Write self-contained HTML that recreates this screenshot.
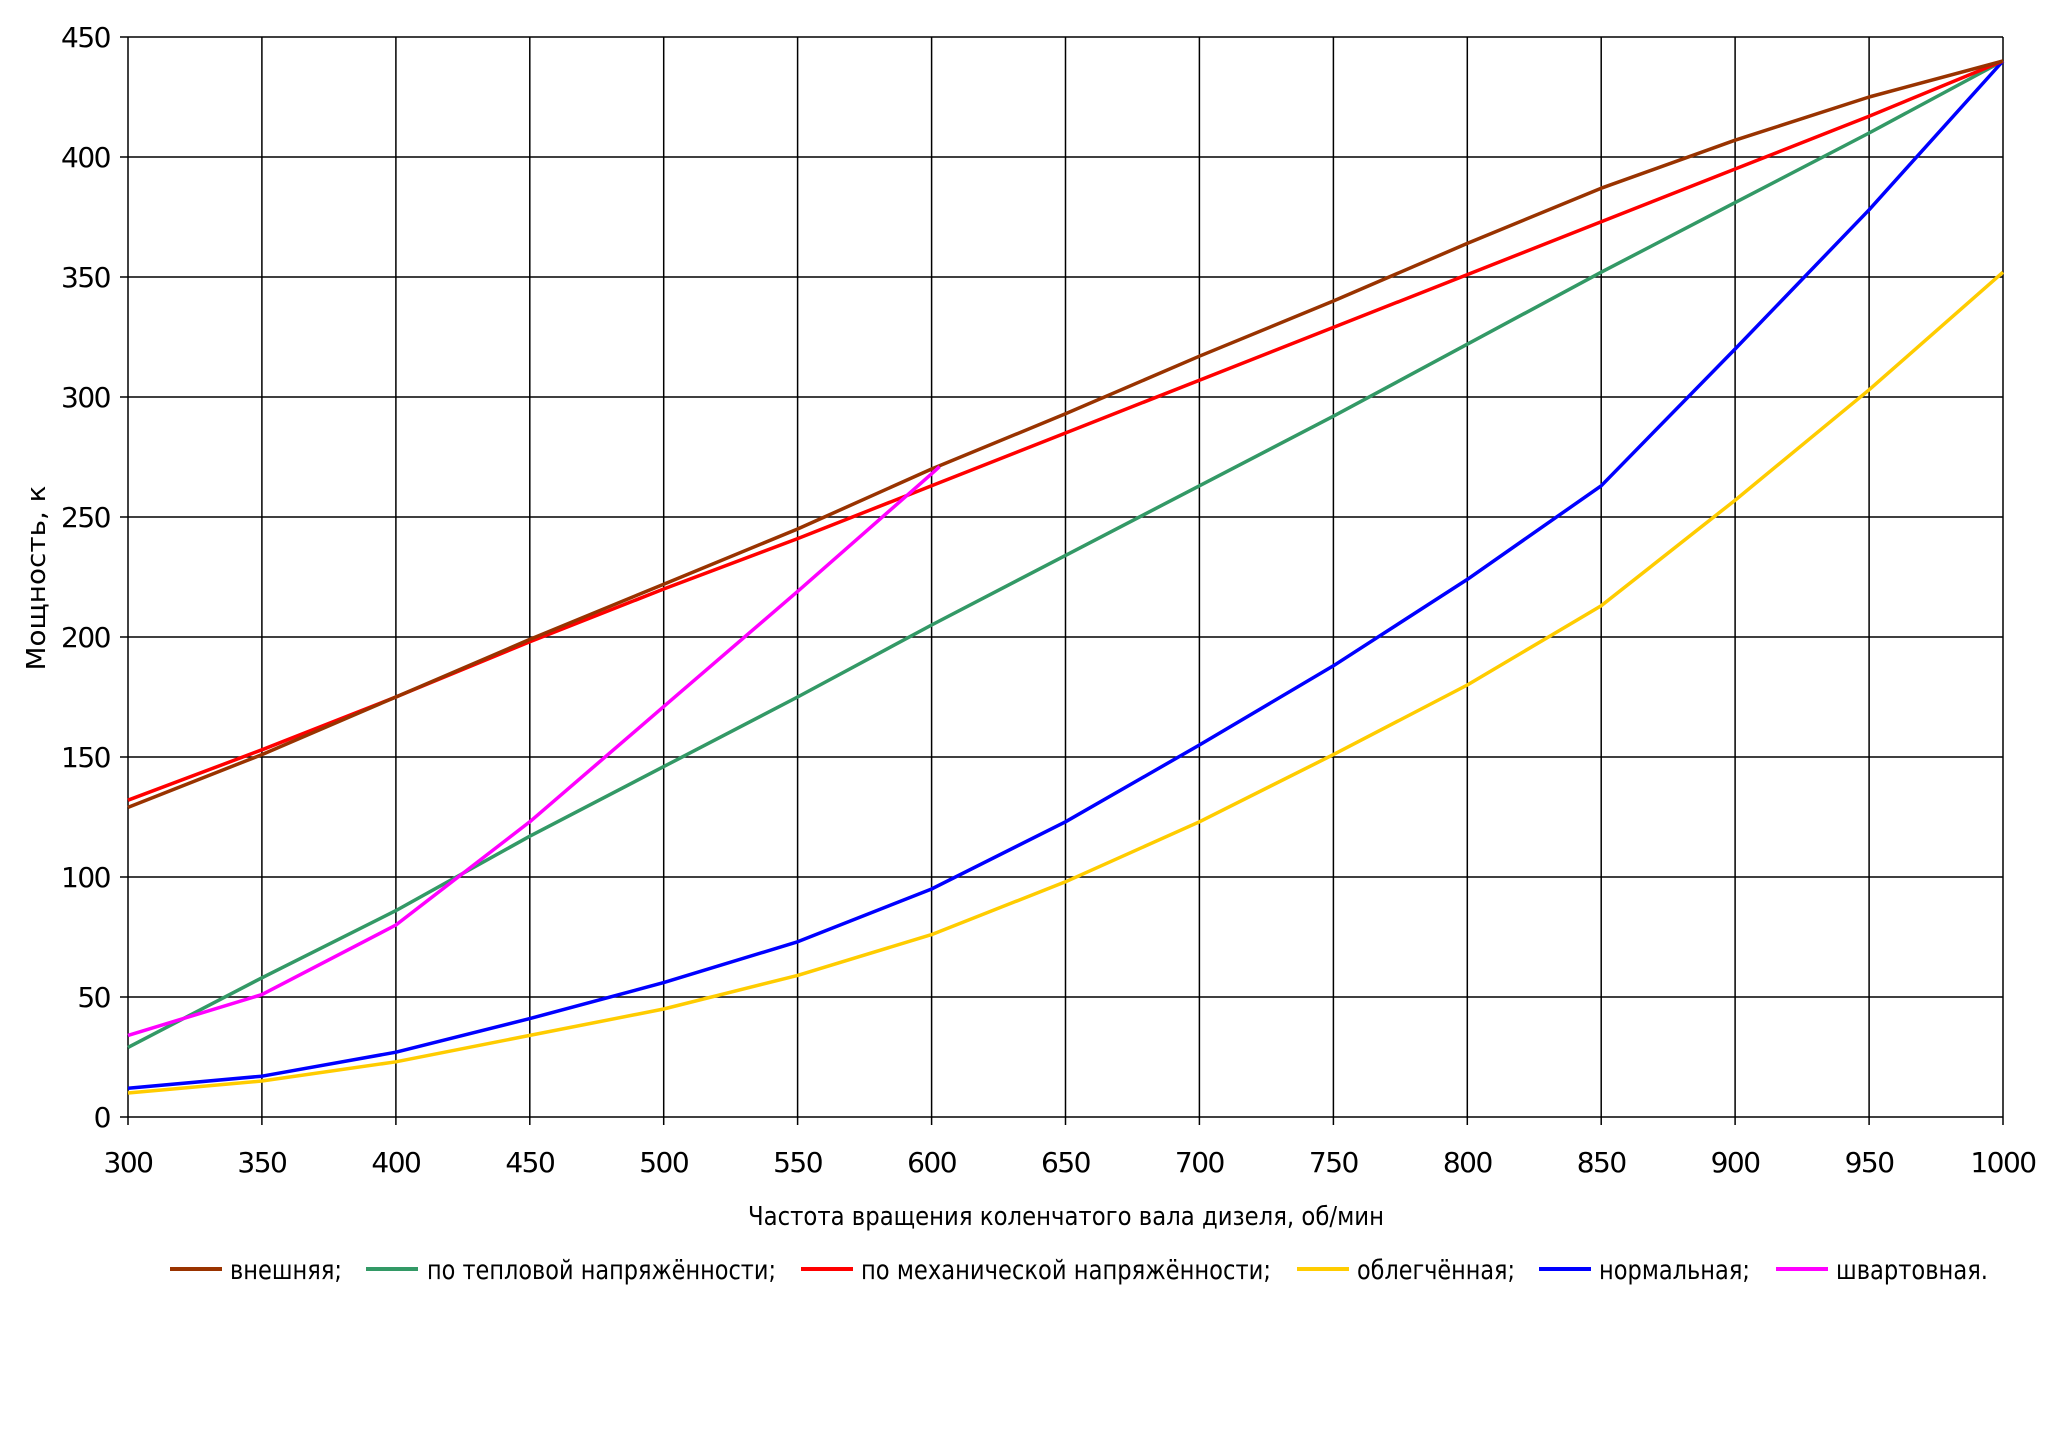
<!DOCTYPE html><html><head><meta charset="utf-8"><style>body{margin:0;background:#fff}</style></head><body>
<svg width="2048" height="1431" xmlns="http://www.w3.org/2000/svg" font-family="'DejaVu Sans', 'Liberation Sans', sans-serif">
<rect width="2048" height="1431" fill="#fff"/>
<g stroke="#000" stroke-width="1.5">
<line x1="120" x2="2003" y1="37" y2="37"/><line x1="120" x2="2003" y1="157" y2="157"/><line x1="120" x2="2003" y1="277" y2="277"/><line x1="120" x2="2003" y1="397" y2="397"/><line x1="120" x2="2003" y1="517" y2="517"/><line x1="120" x2="2003" y1="637" y2="637"/><line x1="120" x2="2003" y1="757" y2="757"/><line x1="120" x2="2003" y1="877" y2="877"/><line x1="120" x2="2003" y1="997" y2="997"/><line x1="120" x2="2003" y1="1117" y2="1117"/>
<line x1="128" x2="128" y1="37" y2="1125"/><line x1="261.9" x2="261.9" y1="37" y2="1125"/><line x1="395.9" x2="395.9" y1="37" y2="1125"/><line x1="529.8" x2="529.8" y1="37" y2="1125"/><line x1="663.7" x2="663.7" y1="37" y2="1125"/><line x1="797.6" x2="797.6" y1="37" y2="1125"/><line x1="931.6" x2="931.6" y1="37" y2="1125"/><line x1="1065.5" x2="1065.5" y1="37" y2="1125"/><line x1="1199.4" x2="1199.4" y1="37" y2="1125"/><line x1="1333.4" x2="1333.4" y1="37" y2="1125"/><line x1="1467.3" x2="1467.3" y1="37" y2="1125"/><line x1="1601.2" x2="1601.2" y1="37" y2="1125"/><line x1="1735.1" x2="1735.1" y1="37" y2="1125"/><line x1="1869.1" x2="1869.1" y1="37" y2="1125"/><line x1="2003" x2="2003" y1="37" y2="1125"/>
</g>
<g font-size="28" fill="#000" text-anchor="end" letter-spacing="-1.5">
<text x="110" y="47">450</text><text x="110" y="167">400</text><text x="110" y="287">350</text><text x="110" y="407">300</text><text x="110" y="527">250</text><text x="110" y="647">200</text><text x="110" y="767">150</text><text x="110" y="887">100</text><text x="110" y="1007">50</text><text x="110" y="1127">0</text>
</g>
<g font-size="28" fill="#000" text-anchor="middle" letter-spacing="-1.5">
<text x="128" y="1172">300</text><text x="261.9" y="1172">350</text><text x="395.9" y="1172">400</text><text x="529.8" y="1172">450</text><text x="663.7" y="1172">500</text><text x="797.6" y="1172">550</text><text x="931.6" y="1172">600</text><text x="1065.5" y="1172">650</text><text x="1199.4" y="1172">700</text><text x="1333.4" y="1172">750</text><text x="1467.3" y="1172">800</text><text x="1601.2" y="1172">850</text><text x="1735.1" y="1172">900</text><text x="1869.1" y="1172">950</text><text x="2003" y="1172">1000</text>
</g>
<g fill="none" stroke-width="3.5" stroke-linejoin="round">
<polyline stroke="#339966" points="128,1047.4 261.9,977.8 395.9,910.6 529.8,836.2 663.7,766.6 797.6,697 931.6,625 1065.5,555.4 1199.4,485.8 1333.4,416.2 1467.3,344.2 1601.2,272.2 1735.1,202.6 1869.1,133 2003,61"/>
<polyline stroke="#ffcc00" points="128,1093 261.9,1081 395.9,1061.8 529.8,1035.4 663.7,1009 797.6,975.4 931.6,934.6 1065.5,881.8 1199.4,821.8 1333.4,754.6 1467.3,685 1601.2,605.8 1735.1,500.2 1869.1,389.8 2003,272.2"/>
<polyline stroke="#0000ff" points="128,1088.2 261.9,1076.2 395.9,1052.2 529.8,1018.6 663.7,982.6 797.6,941.8 931.6,889 1065.5,821.8 1199.4,745 1333.4,665.8 1467.3,579.4 1601.2,485.8 1735.1,349 1869.1,209.8 2003,61"/>
<polyline stroke="#ff0000" points="128,800.2 261.9,749.8 395.9,697 529.8,641.8 663.7,589 797.6,538.6 931.6,485.8 1065.5,433 1199.4,380.2 1333.4,327.4 1467.3,274.6 1601.2,221.8 1735.1,169 1869.1,116.2 2003,61"/>
<polyline stroke="#993300" points="128,807.4 261.9,754.6 395.9,697 529.8,639.4 663.7,584.2 797.6,529 931.6,469 1065.5,413.8 1199.4,356.2 1333.4,301 1467.3,243.4 1601.2,188.2 1735.1,140.2 1869.1,97 2003,61"/>
<polyline stroke="#ff00ff" points="128,1035.4 261.9,994.6 395.9,925 529.8,821.8 663.7,706.6 797.6,591.4 931.6,473.8 939.6,466.6"/>
</g>
<text x="1066" y="1225" font-size="26" text-anchor="middle" textLength="636" lengthAdjust="spacingAndGlyphs">Частота вращения коленчатого вала дизеля, об/мин</text>
<text transform="translate(45,578) rotate(-90)" font-size="26" text-anchor="middle" textLength="185" lengthAdjust="spacingAndGlyphs">Мощность, к</text>
<g font-size="27">
<line x1="170" y1="1269" x2="222" y2="1269" stroke="#993300" stroke-width="4"/><text x="230" y="1279" textLength="112" lengthAdjust="spacingAndGlyphs">внешняя;</text>
<line x1="366" y1="1269" x2="418" y2="1269" stroke="#339966" stroke-width="4"/><text x="427" y="1279" textLength="349" lengthAdjust="spacingAndGlyphs">по тепловой напряжённости;</text>
<line x1="801" y1="1269" x2="853" y2="1269" stroke="#ff0000" stroke-width="4"/><text x="861" y="1279" textLength="410" lengthAdjust="spacingAndGlyphs">по механической напряжённости;</text>
<line x1="1297" y1="1269" x2="1349" y2="1269" stroke="#ffcc00" stroke-width="4"/><text x="1357" y="1279" textLength="158" lengthAdjust="spacingAndGlyphs">облегчённая;</text>
<line x1="1539" y1="1269" x2="1591" y2="1269" stroke="#0000ff" stroke-width="4"/><text x="1599" y="1279" textLength="151" lengthAdjust="spacingAndGlyphs">нормальная;</text>
<line x1="1776" y1="1269" x2="1828" y2="1269" stroke="#ff00ff" stroke-width="4"/><text x="1836" y="1279" textLength="152" lengthAdjust="spacingAndGlyphs">швартовная.</text>
</g>
</svg></body></html>
